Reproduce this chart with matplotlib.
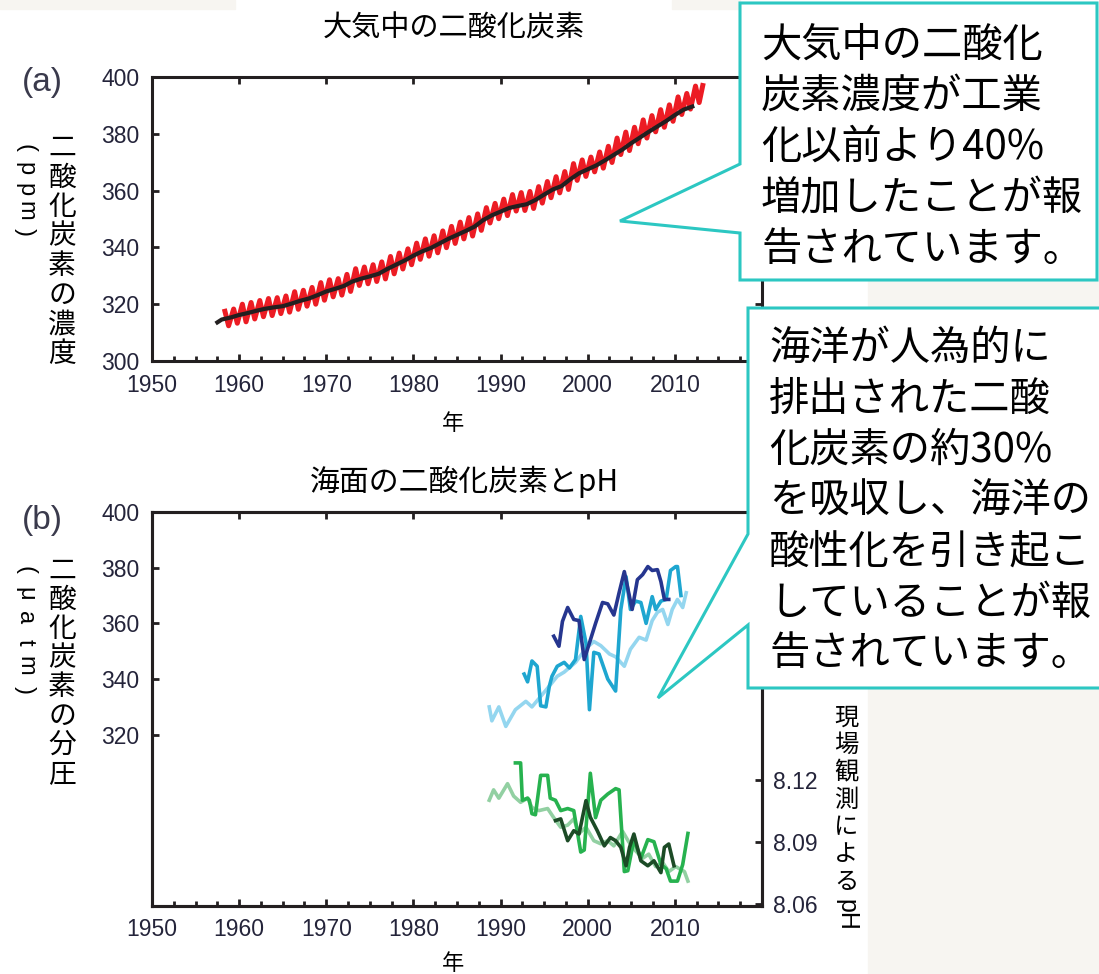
import matplotlib
matplotlib.use('Agg')
import matplotlib.pyplot as plt
from matplotlib.patches import Polygon, Rectangle
from matplotlib.ticker import MultipleLocator

plt.rcParams['font.family'] = ['Noto Sans CJK JP', 'DejaVu Sans']

# (a) atmospheric CO2 (ppm): Mauna Loa seasonal peaks / troughs, South Pole yearly
mlo_years = list(range(1958, 2013))
mlo_peak = [317.5, 318.3, 320.0, 320.6, 321.3, 322.0, 322.3, 322.9, 324.4, 324.9,
            325.9, 327.6, 328.6, 329.0, 330.5, 332.5, 333.1, 333.9, 334.9, 336.8,
            338.0, 339.5, 341.5, 343.0, 344.1, 345.8, 347.4, 348.9, 350.5, 351.8,
            354.0, 355.5, 357.0, 358.6, 359.3, 359.7, 361.4, 363.2, 364.9, 366.7,
            369.5, 370.8, 371.8, 373.6, 375.6, 378.5, 380.6, 382.3, 384.9, 386.4,
            388.5, 390.2, 393.0, 394.2, 396.8]
mlo_trough = [312.4, 313.3, 313.8, 314.8, 315.6, 316.0, 316.7, 317.2, 318.2, 319.3,
              320.0, 321.4, 322.6, 323.2, 324.5, 326.6, 327.2, 328.0, 328.9, 330.7,
              332.4, 333.9, 335.8, 336.9, 338.1, 339.9, 341.4, 343.0, 344.0, 346.0,
              348.6, 350.1, 351.2, 352.8, 353.0, 353.7, 355.6, 357.5, 359.2, 360.4,
              363.6, 365.0, 366.6, 367.9, 369.9, 372.7, 374.1, 376.5, 378.5, 380.7,
              382.3, 384.4, 386.8, 388.7, 391.0]
mlo_end_year = 2013.2
mlo_end_ppm = 397.0

spo_years = [1957.5] + list(range(1958, 2013))
spo_ppm = [313.6, 314.6, 315.3, 316.2, 316.9, 317.7, 318.4, 318.9, 319.3, 320.2, 321.2,
           322.0, 323.2, 324.5, 325.4, 326.4, 328.0, 329.0, 329.8, 330.7, 332.4,
           333.9, 335.4, 337.1, 338.6, 339.8, 341.4, 343.0, 344.4, 345.8, 347.3,
           349.6, 351.3, 352.6, 353.9, 354.6, 355.2, 356.7, 358.6, 360.4, 361.6,
           364.0, 366.1, 367.5, 368.9, 370.7, 372.6, 374.5, 376.7, 378.7, 380.7,
           382.6, 384.5, 386.6, 388.5, 389.6]

# (b) surface ocean pCO2 (uatm)
hawaii_pco2_year = [1988.7, 1989.0, 1989.8, 1990.6, 1991.7, 1992.9, 1993.6, 1994.4, 1995.6,
                    1996.5, 1997.3, 1998.6, 1999.8, 2000.7, 2001.5, 2002.5, 2003.2, 2004.2,
                    2004.9, 2005.9, 2006.7, 2007.4, 2008.0, 2008.6, 2009.2, 2009.7, 2010.3,
                    2010.9, 2011.3]
hawaii_pco2 = [330, 325, 330, 323, 329, 332, 330, 333, 337.5,
               341, 342.5, 346, 351, 353.5, 352, 349, 348, 344.6,
               350.7, 355, 354, 361, 364, 365, 359.6, 365, 368.6,
               365.7, 371]
bermuda_pco2_year = [1992.7, 1993.1, 1993.6, 1994.2, 1994.6, 1995.2, 1995.6, 1995.9, 1996.5,
                     1997.3, 1997.9, 1998.6, 1999.2, 1999.8, 2000.2, 2000.7, 2001.3, 2002.3,
                     2003.2, 2003.8, 2004.4, 2004.9, 2005.5, 2006.1, 2006.7, 2007.4, 2007.8,
                     2008.4, 2009.0, 2009.5, 2010.1, 2010.3, 2010.7]
bermuda_pco2 = [341.8, 339, 346.5, 344.6, 330.4, 330, 337.5, 341, 344.6,
                346, 344, 347, 362.5, 353, 329, 349.6, 349, 340,
                335.7, 365, 376.8, 365, 368, 367.5, 360, 369.6, 365,
                368, 368.6, 379, 380.4, 380.4, 370]
canary_pco2_year = [1996.1, 1996.7, 1997.1, 1997.7, 1998.4, 1999.0, 1999.6, 2000.2, 2000.9,
                    2001.7, 2002.3, 2003.0, 2003.6, 2004.2, 2005.1, 2005.7, 2006.3, 2006.9,
                    2007.4, 2008.0, 2008.4, 2008.8, 2009.3]
canary_pco2 = [355.4, 351.8, 360.7, 365.7, 361.4, 361, 347, 353, 360,
               367.5, 367, 363, 371, 378.6, 365, 375.7, 377.5, 380.4,
               379, 379.3, 375, 368.6, 368.6]

# (b) in situ pH
hawaii_ph_year = [1988.7, 1989.2, 1989.8, 1990.8, 1991.5, 1992.3, 1993.1, 1993.6, 1994.4,
                  1995.4, 1996.1, 1996.9, 1997.7, 1998.4, 1999.0, 1999.8, 2000.7, 2001.5,
                  2002.3, 2003.0, 2004.0, 2004.7, 2005.5, 2006.3, 2007.0, 2007.8, 2008.6,
                  2009.3, 2010.1, 2011.1, 2011.5]
hawaii_ph = [8.110, 8.115, 8.111, 8.118, 8.112, 8.109, 8.111, 8.1065, 8.105,
             8.106, 8.1016, 8.097, 8.098, 8.101, 8.094, 8.097, 8.0905, 8.089,
             8.0905, 8.088, 8.095, 8.090, 8.0856, 8.082, 8.084, 8.078, 8.080,
             8.0756, 8.078, 8.0756, 8.071]
bermuda_ph_year = [1991.7, 1992.3, 1992.5, 1993.1, 1993.3, 1993.6, 1994.0, 1994.6, 1995.4,
                   1995.7, 1996.3, 1996.9, 1997.7, 1998.4, 1999.2, 1999.6, 2000.3, 2000.9,
                   2001.5, 2002.3, 2003.2, 2003.6, 2004.2, 2004.6, 2005.3, 2006.1, 2006.9,
                   2007.6, 2008.4, 2009.0, 2009.5, 2010.3, 2010.9, 2011.5]
bermuda_ph = [8.128, 8.128, 8.110, 8.111, 8.110, 8.1035, 8.103, 8.122, 8.122,
              8.111, 8.110, 8.105, 8.106, 8.105, 8.085, 8.086, 8.123, 8.1016,
              8.110, 8.113, 8.1156, 8.115, 8.0756, 8.076, 8.091, 8.082, 8.091,
              8.090, 8.079, 8.077, 8.071, 8.071, 8.079, 8.094]
canary_ph_year = [1996.3, 1996.9, 1997.7, 1998.4, 1999.0, 1999.8, 2000.3, 2001.1, 2001.9,
                  2002.6, 2003.2, 2003.8, 2004.4, 2004.8, 2005.3, 2006.1, 2006.9, 2007.6,
                  2008.4, 2008.8, 2009.3, 2009.9]
canary_ph = [8.1002, 8.101, 8.0905, 8.0953, 8.0937, 8.1098, 8.1018, 8.0953, 8.088,
             8.092, 8.0905, 8.0873, 8.0784, 8.0873, 8.0937, 8.0808, 8.0784, 8.0808,
             8.0751, 8.0873, 8.0889, 8.0784]

x_ticks = [1950, 1960, 1970, 1980, 1990, 2000, 2010]
ppm_ticks = [300, 320, 340, 360, 380, 400]
pco2_ticks = [320, 340, 360, 380, 400]
ph_ticks = [8.06, 8.09, 8.12]

callout_1 = ['大気中の二酸化', '炭素濃度が工業', '化以前より40%', '増加したことが報', '告されています。']
callout_2 = ['海洋が人為的に', '排出された二酸', '化炭素の約30%', 'を吸収し、海洋の',
             '酸性化を引き起こ', 'していることが報', '告されています。']

W, H = 1099, 974
SPINE = '#231f20'
TICKTXT = '#24243a'
TEAL = '#2cc7c2'
NUMFONT = 'Liberation Sans'


def box(px_left, px_top, px_right, px_bottom):
    return [px_left / W, 1 - px_bottom / H, (px_right - px_left) / W, (px_bottom - px_top) / H]


def style(ax):
    for s in ax.spines.values():
        s.set_linewidth(2.2)
        s.set_color(SPINE)
    ax.set_xlim(1950, 2020)
    ax.set_xticks(x_ticks)
    ax.xaxis.set_minor_locator(MultipleLocator(2.5))
    ax.tick_params(which='both', direction='in', top=True, right=True, color=SPINE,
                   labelcolor=TICKTXT, labelsize=16.5, width=2)
    ax.tick_params(which='major', length=5, pad=9)
    ax.tick_params(which='minor', length=3.5, top=False)
    ax.tick_params(axis='y', which='minor', left=False, right=False)


fig = plt.figure(figsize=(W / 100, H / 100), dpi=100)
fig.patch.set_facecolor('white')

# panel (a)
ax_a = fig.add_axes(box(152, 77, 762, 361))
style(ax_a)
ax_a.set_ylim(300, 400)
ax_a.set_yticks(ppm_ticks)
red_x, red_y = [], []
for yr, pk, tr in zip(mlo_years, mlo_peak, mlo_trough):
    red_x += [yr + 0.37, yr + 0.79]
    red_y += [pk, tr]
red_x.append(mlo_end_year)
red_y.append(mlo_end_ppm)
ax_a.plot(red_x, red_y, color='#ec1c24', lw=3.6, solid_joinstyle='round', zorder=2)
ax_a.plot(spo_years, spo_ppm, color='#231f20', lw=3.0, zorder=3)

# panel (b)
ax_b = fig.add_axes(box(152, 512, 762, 906))
style(ax_b)
ax_b.tick_params(which='both', right=False)
ax_b.set_ylim(258.5, 400)
ax_b.set_yticks(pco2_ticks)
ax_b.plot(hawaii_pco2_year, hawaii_pco2, color='#94d6ef', lw=2.6)
ax_b.plot(bermuda_pco2_year, bermuda_pco2, color='#1ea6d0', lw=2.6)
ax_b.plot(canary_pco2_year, canary_pco2, color='#26368f', lw=2.6)

ax_ph = ax_b.twinx()
for s in ax_ph.spines.values():
    s.set_linewidth(2.2)
    s.set_color(SPINE)
ax_ph.set_ylim(8.059, 8.249)
ax_ph.set_yticks(ph_ticks)
ax_ph.set_yticklabels([f'{v:.2f}' for v in ph_ticks])
ax_ph.tick_params(direction='in', length=5, width=2, color=SPINE, labelcolor=TICKTXT,
                  labelsize=16.5, pad=8)
ax_ph.plot(hawaii_ph_year, hawaii_ph, color='#92d0a2', lw=2.6)
ax_ph.plot(bermuda_ph_year, bermuda_ph, color='#27b24f', lw=2.6)
ax_ph.plot(canary_ph_year, canary_ph, color='#1c4b26', lw=2.6)

for ax in (ax_a, ax_b, ax_ph):
    for lab in ax.get_xticklabels() + ax.get_yticklabels():
        lab.set_fontfamily(NUMFONT)


def ftext(px, py, s, **kw):
    fig.text(px / W, 1 - py / H, s, **kw)


ftext(454, 28, '大気中の二酸化炭素', fontsize=21, ha='center', va='center')
ftext(464, 482, '海面の二酸化炭素とpH', fontsize=21.5, ha='center', va='center')
ftext(453, 423, '年', fontsize=16, ha='center', va='center')
ftext(453, 963, '年', fontsize=16, ha='center', va='center')
ftext(42, 83, '(a)', fontsize=24, ha='center', va='center', color='#3a3a4c', family=NUMFONT)
ftext(42, 521, '(b)', fontsize=24, ha='center', va='center', color='#3a3a4c', family=NUMFONT)

# vertical axis titles, one character per slot
for i, ch in enumerate('二酸化炭素の濃度'):
    ftext(62, 148 + i * 29.4, ch, fontsize=20, ha='center', va='center')
for i, ch in enumerate('(ppm)'):
    ftext(25, 148 + i * 21.0, ch, fontsize=17, rotation=270, ha='center', va='center',
          family=NUMFONT)
for i, ch in enumerate('二酸化炭素の分圧'):
    ftext(62, 571 + i * 29.0, ch, fontsize=20, ha='center', va='center')
for i, ch in enumerate('(μatm)'):
    ftext(25, 570 + i * 24.0, ch, fontsize=17, rotation=270, ha='center', va='center',
          family=NUMFONT)
for i, ch in enumerate('現場観測による'):
    ftext(846, 718 + i * 27.3, ch, fontsize=17.5, ha='center', va='center')
ftext(846, 915, 'pH', fontsize=18, rotation=270, ha='center', va='center', family=NUMFONT)

# overlay for background and callouts (pixel coordinates)
ov = fig.add_axes([0, 0, 1, 1], zorder=10)
ov.set_xlim(0, W)
ov.set_ylim(H, 0)
ov.axis('off')
ov.patch.set_alpha(0)
bg = '#f7f5f1'
ov.add_patch(Rectangle((868, 281), W - 868, H - 281, color=bg, zorder=0))
ov.add_patch(Rectangle((0, 0), 235, 9, color=bg, zorder=0))
ov.add_patch(Rectangle((672, 0), 68, 9, color=bg, zorder=0))

ov.add_patch(Polygon([(740, 3), (1097, 3), (1097, 280), (740, 280), (740, 233), (620, 221),
                      (740, 164)], closed=True, facecolor='white', edgecolor=TEAL, lw=2.2,
                     joinstyle='miter', zorder=2))
ov.add_patch(Polygon([(748, 308), (1110, 308), (1110, 688), (748, 688), (748, 625), (658, 698),
                      (748, 534)], closed=True, facecolor='white', edgecolor=TEAL, lw=2.2,
                     joinstyle='miter', zorder=2))
for i, line in enumerate(callout_1):
    ov.text(761, 45 + i * 51.2, line, fontsize=29, ha='left', va='center', zorder=3)
for i, line in enumerate(callout_2):
    ov.text(769, 348 + i * 51.0, line, fontsize=29, ha='left', va='center', zorder=3)

fig.savefig('out.png', dpi=100, facecolor=fig.get_facecolor())
